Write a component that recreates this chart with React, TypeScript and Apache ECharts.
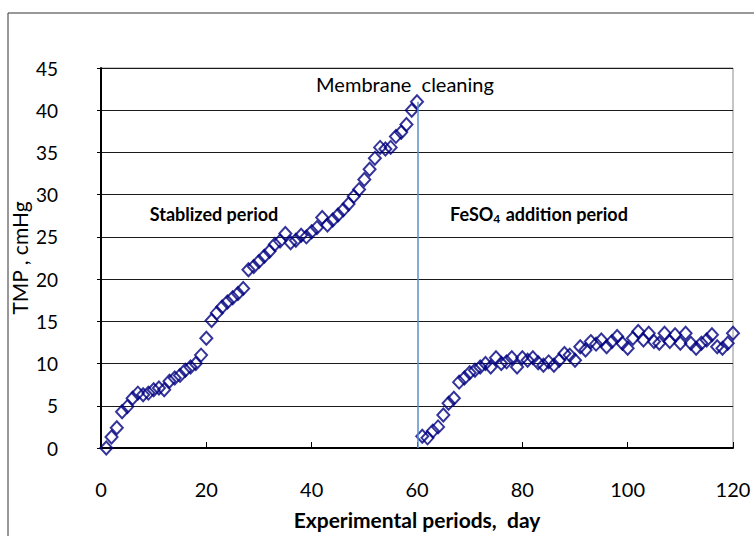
import React, { useEffect, useRef } from "react";
import * as echarts from "echarts";

const daysStage1 = [1,2,3,4,5,6,7,8,9,10,11,12,13,14,15,16,17,18,19,20,21,22,23,24,25,26,27,28,29,30,31,32,33,34,35,36,37,38,39,40,41,42,43,44,45,46,47,48,49,50,51,52,53,54,55,56,57,58,59,60];
const tmpStage1 = [0,1.3,2.4,4.3,4.9,5.9,6.5,6.3,6.5,6.9,7.1,6.9,7.9,8.3,8.6,9.2,9.6,10.0,11.0,13.0,15.1,16.0,16.7,17.3,17.8,18.3,18.9,21.1,21.5,22.1,22.7,23.3,24.1,24.5,25.4,24.3,24.6,25.2,25.0,25.6,26.1,27.3,26.4,27.0,27.6,28.2,28.9,29.8,30.6,31.8,33.0,34.3,35.6,35.4,35.6,36.9,37.4,38.3,40.0,41.0];

const daysStage2 = [61,62,63,64,65,66,67,68,69,70,71,72,73,74,75,76,77,78,79,80,81,82,83,84,85,86,87,88,89,90,91,92,93,94,95,96,97,98,99,100,101,102,103,104,105,106,107,108,109,110,111,112,113,114,115,116,117,118,119,120];
const tmpStage2 = [1.4,1.2,2.0,2.5,3.9,5.3,5.9,7.8,8.3,8.9,9.2,9.6,10.0,9.6,10.7,10.0,10.2,10.7,9.6,10.7,10.4,10.7,10.1,9.8,10.2,9.8,10.4,11.2,11.0,10.4,12.0,11.6,12.6,12.3,12.8,12.0,12.6,13.2,12.4,11.8,13.0,13.8,12.8,13.6,12.6,12.4,13.6,12.6,13.4,12.4,13.6,12.4,11.8,12.4,12.8,13.4,12.0,11.8,12.4,13.6];

const cleaningDay = 60.2;
const cleaningTop = 41;

const xTicks = [0, 20, 40, 60, 80, 100, 120];
const yTicks = [0, 5, 10, 15, 20, 25, 30, 35, 40, 45];

const FONT = "Lato";

export default function App() {
  const ref = useRef<HTMLDivElement>(null);
  useEffect(() => {
    if (!ref.current) return;
    const chart = echarts.init(ref.current, undefined, { renderer: "svg" });
    const pts = daysStage1.map((d, i) => [d, tmpStage1[i]]).concat(
      daysStage2.map((d, i) => [d, tmpStage2[i]])
    );
    chart.setOption({
      animation: false,
      backgroundColor: "#ffffff",
      grid: {
        left: 101,
        right: 21,
        top: 68,
        bottom: 88,
        show: true,
        borderColor: "#8c8c8c",
        borderWidth: 1,
        containLabel: false,
        outerBoundsMode: "none",
      },
      xAxis: {
        type: "value",
        min: xTicks[0],
        max: xTicks[xTicks.length - 1],
        interval: 20,
        name: "Experimental periods,  day",
        nameLocation: "middle",
        nameGap: 61,
        nameMoveOverlap: false,
        nameTextStyle: { fontFamily: FONT, fontWeight: "bold", fontSize: 21, color: "#000" },
        axisLine: { show: true, lineStyle: { color: "#000", width: 2 } },
        axisTick: { show: true, inside: true, length: 6, lineStyle: { color: "#000" } },
        axisLabel: { fontFamily: FONT, fontSize: 20, color: "#000", margin: 31 },
        splitLine: { show: false },
      },
      yAxis: {
        type: "value",
        min: yTicks[0],
        max: yTicks[yTicks.length - 1],
        interval: 5,
        name: "TMP , cmHg",
        nameLocation: "middle",
        nameGap: 71,
        nameMoveOverlap: false,
        nameTextStyle: { fontFamily: FONT, fontSize: 21, color: "#000" },
        axisLine: { show: true, lineStyle: { color: "#000", width: 2 } },
        axisTick: { show: true, inside: false, length: 4, lineStyle: { color: "#000" } },
        axisLabel: { fontFamily: FONT, fontSize: 19, color: "#000", margin: 43 },
        splitLine: { show: true, lineStyle: { color: "#1a1a1a", width: 1 } },
      },
      series: [
        {
          type: "scatter",
          data: pts,
          symbol: "diamond",
          symbolSize: [12, 13],
          itemStyle: { color: "rgba(0,0,0,0)", borderColor: "#000080", borderWidth: 2 },
          z: 3,
          markLine: {
            silent: true,
            symbol: ["none", "none"],
            label: { show: false },
            lineStyle: { color: "#5b8fd0", width: 1.5, type: "solid" },
            data: [[{ coord: [cleaningDay, cleaningTop] }, { coord: [cleaningDay, 0] }]],
          },
        },
      ],
      graphic: [
        {
          type: "rect",
          shape: { x: 8, y: 13, width: 800, height: 600 },
          style: { fill: "none", stroke: "#333", lineWidth: 1 },
          silent: true,
        },
        {
          type: "text",
          x: 405,
          y: 84,
          style: {
            text: "Membrane  cleaning",
            fontFamily: FONT,
            fontSize: 20,
            fill: "#000",
            align: "center",
            verticalAlign: "middle",
          },
        },
        {
          type: "text",
          x: 214,
          y: 214,
          style: {
            text: "Stablized period",
            fontFamily: FONT,
            fontSize: 18,
            fontWeight: "bold",
            fill: "#000",
            align: "center",
            verticalAlign: "middle",
          },
        },
        {
          type: "text",
          x: 539,
          y: 214,
          style: {
            text: "FeSO{sub|4} addition period",
            fontFamily: FONT,
            fontSize: 18,
            fontWeight: "bold",
            fill: "#000",
            align: "center",
            verticalAlign: "middle",
            rich: {
              sub: {
                fontFamily: FONT,
                fontSize: 12,
                fontWeight: "bold",
                fill: "#000",
                verticalAlign: "bottom",
                padding: [9, 1, 0, 0],
              },
            },
          },
        },
      ],
    });
    return () => chart.dispose();
  }, []);
  return (
    <div
      ref={ref}
      style={{ position: "fixed", left: 0, top: 0, width: 754, height: 536 }}
    />
  );
}
